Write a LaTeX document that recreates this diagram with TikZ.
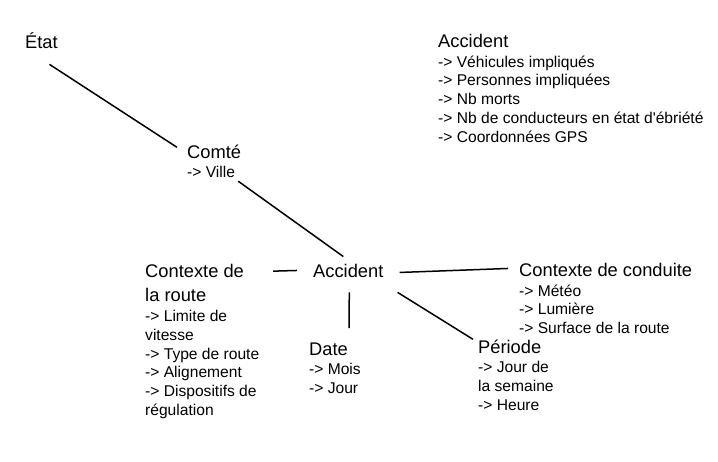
\documentclass[tikz,border=0pt]{standalone}
\usepackage{fontspec}
\setmainfont{Liberation Sans}
\usetikzlibrary{positioning,calc}

\tikzset{
  heading/.style={font=\fontsize{18.3}{24}\selectfont, inner sep=0pt, align=left, anchor=base west},
  sublist/.style={font=\fontsize{15.6}{18.8}\selectfont, inner sep=0pt, align=left, anchor=north west, yshift=-8pt},
  link/.style={line width=1.5pt}
}

\begin{document}
\begin{tikzpicture}[x=1pt, y=-1pt]
  \useasboundingbox (0,0) rectangle (718,461);

  % hierarchy and dimensions
  \node[heading] (etat) at (25,48) {État};
  \node[heading] (comte) at (187,158) {Comté};
  \node[sublist] (comteitems) at (comte.south west) {-> Ville};
  \node[heading] (accident) at (313,277) {Accident};

  \node[heading, anchor=south west] (ctxroute) at (145,302) {Contexte de\\la route};
  \node[sublist] (ctxrouteitems) at (ctxroute.south west)
    {-> Limite de\\vitesse\\-> Type de route\\-> Alignement\\-> Dispositifs de\\régulation};

  \node[heading] (ctxcond) at (519,276) {Contexte de conduite};
  \node[sublist] (ctxconditems) at (ctxcond.south west)
    {-> Météo\\-> Lumière\\-> Surface de la route};

  \node[heading] (date) at (309,355) {Date};
  \node[sublist] (dateitems) at (date.south west) {-> Mois\\-> Jour};

  \node[heading] (periode) at (478,353) {Période};
  \node[sublist] (periodeitems) at (periode.south west) {-> Jour de\\la semaine\\-> Heure};

  % facts
  \node[heading] (faits) at (438,47) {Accident};
  \node[sublist] (faitsitems) at (faits.south west)
    {-> Véhicules impliqués\\-> Personnes impliquées\\-> Nb morts\\-> Nb de conducteurs en état d\textquotesingle ébriété\\-> Coordonnées GPS};

  % connectors
  \draw[link] ($(etat.south)+(8,16)$) -- ($(comte.north west)+(-10,3)$);
  \draw[link] ($(comteitems.south east)+(3,3)$) -- ($(accident.north)+(-5,-7)$);
  \draw[link] ($(ctxroute.north east)+(29,7)$) -- ($(accident.west)+(-16,0)$);
  \draw[link] ($(accident.east)+(16,2)$) -- ($(ctxcond.west)+(-11,-1)$);
  \draw[link] ($(accident.south)+(1,15)$) -- ($(date.north east)+(1,-14)$);
  \draw[link] ($(accident.south east)+(14,15)$) -- ($(periode.north west)+(-5,0)$);
\end{tikzpicture}
\end{document}
